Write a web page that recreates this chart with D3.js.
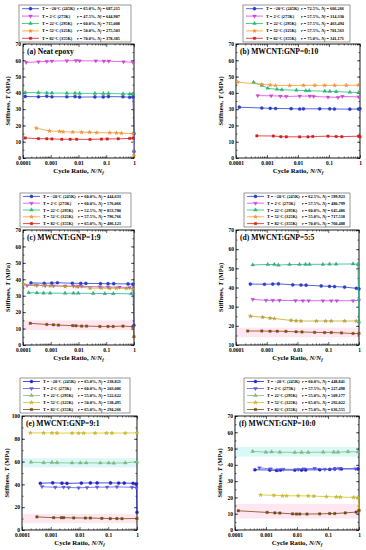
<!DOCTYPE html>
<html>
<head>
<meta charset="utf-8">
<script src="https://cdn.jsdelivr.net/npm/d3@7"></script>
<style>
  body { margin: 0; background: #fff; }
  svg { display: block; }
</style>
</head>
<body>
<script>
var FONT = '"Liberation Serif", "Times New Roman", serif'

// ---- data ----
var panel_titles = ['(a) Neat epoxy', '(b) MWCNT:GNP=0:10', '(c) MWCNT:GNP=1:9',
                    '(d) MWCNT:GNP=5:5', '(e) MWCNT:GNP=9:1', '(f) MWCNT:GNP=10:0']
var temps = ['T = \u221220\u00b0C (245K)', 'T = 2\u00b0C (275K)', 'T = 22\u00b0C (295K)',
             'T = 52\u00b0C (325K)', 'T = 82\u00b0C (355K)']
var r_values = [
  ['65.0%', '47.5%', '60.0%', '50.0%', '70.0%'],
  ['72.5%', '57.5%', '57.5%', '57.5%', '75.0%'],
  ['60.0%', '60.0%', '52.5%', '57.5%', '65.0%'],
  ['62.5%', '57.5%', '60.0%', '55.0%', '70.0%'],
  ['65.0%', '60.0%', '55.0%', '50.0%', '65.0%'],
  ['60.0%', '57.5%', '55.0%', '65.0%', '75.0%']
]
var nf_values = [
  ['687,215', '644,987', '715,008', '275,503', '378,385'],
  ['666,266', '314,330', '463,494', '701,563', '341,171'],
  ['444,633', '576,066', '853,780', '796,766', '486,123'],
  ['599,923', '480,799', '645,486', '717,518', '760,488'],
  ['238,821', '203,086', '522,622', '538,495', '294,266'],
  ['448,841', '227,498', '509,177', '292,022', '636,555']
]
var x_ticks = [0.0001, 0.001, 0.01, 0.1, 1]
var y_domains = [[0, 70], [0, 70], [0, 70], [10, 70], [0, 100], [0, 70]]
var y_steps = [10, 10, 10, 10, 20, 10]
var pink_bands = [null, null, [9, 15], [14, 19], [6, 14], [7, 16]]
var cyan_bands = [null, null, null, null, [55, 63], [45, 51]]

// cycle ratio (x) and stiffness (y), series order: -20, 2, 22, 52, 82 C
var ratio_a = [
  [1.2e-4, 3.6e-4, 7.2e-4, 1.1e-3, 3.8e-3, 7.5e-3, 0.011, 0.039, 0.078, 0.12, 0.4, 0.7, 0.92, 1, 1],
  [1.3e-4, 3.6e-4, 7.2e-4, 1.1e-3, 3.8e-3, 8.1e-3, 0.011, 0.042, 0.082, 0.124, 0.42, 0.91],
  [1.2e-4, 3.6e-4, 7.2e-4, 1.1e-3, 3.8e-3, 7.5e-3, 0.011, 0.039, 0.078, 0.12, 0.4, 0.7, 0.92],
  [3.0e-4, 9e-4, 2.1e-3, 2.8e-3, 6.2e-3, 0.013, 0.025, 0.045, 0.134, 0.23, 0.35, 0.92, 1],
  [1.2e-4, 3.6e-4, 7.2e-4, 1.1e-3, 2.5e-3, 5e-3, 8.6e-3, 0.026, 0.067, 0.108, 0.27, 0.7, 0.92]
]
var stiff_a = [
  [37.8, 37.6, 37.9, 37.6, 37.6, 37.7, 37.4, 37.5, 37.5, 37.7, 37.6, 37.3, 37.5, 15, 4],
  [58.7, 59.1, 59.3, 59.5, 59.7, 59.8, 59.7, 59.6, 59.5, 59.5, 59.1, 58.8],
  [40.2, 40.1, 39.9, 39.9, 39.8, 39.8, 39.7, 39.7, 39.6, 39.6, 39.4, 39.3, 39.3],
  [18.3, 16.6, 16.3, 16.1, 15.9, 15.8, 15.8, 15.6, 15.5, 15.4, 15.2, 15.0, 1.5],
  [12.3, 11.9, 11.8, 11.7, 11.5, 11.5, 11.5, 11.4, 11.6, 11.7, 11.8, 12.0, 12.2]
]
var ratio_b = [
  [1.28e-4, 6.8e-4, 1.27e-3, 1.9e-3, 6e-3, 0.0113, 0.015, 0.05, 0.106, 0.15, 0.47, 0.9, 1],
  [5e-4, 1.36e-3, 2.7e-3, 4.2e-3, 0.0113, 0.024, 0.032, 0.093, 0.195, 0.27, 0.9],
  [3.7e-4, 6.8e-4, 1.06e-3, 2.1e-3, 3e-3, 8.9e-3, 0.018, 0.023, 0.073, 0.106, 0.17, 0.47, 0.9],
  [1.13e-4, 6.8e-4, 1.27e-3, 1.9e-3, 5.4e-3, 0.015, 0.035, 0.073, 0.153, 0.36, 0.89],
  [4.7e-4, 1.6e-3, 2.8e-3, 4.2e-3, 0.0113, 0.021, 0.03, 0.093, 0.17, 0.26, 0.9, 1]
]
var stiff_b = [
  [31.2, 30.7, 30.5, 30.4, 30.3, 30.1, 30.2, 30.2, 30.2, 30.1, 30.0, 30.1, 30.3],
  [38.3, 38.2, 38.0, 37.8, 38.0, 38.0, 37.8, 37.4, 37.2, 37.8, 37.5],
  [46.5, 44.6, 42.8, 42.2, 41.9, 41.6, 41.4, 41.3, 41.0, 40.9, 40.8, 40.4, 40.2],
  [46.6, 45.2, 44.8, 44.5, 44.5, 44.6, 44.6, 44.6, 44.6, 44.6, 44.7],
  [13.6, 13.5, 13.1, 13.0, 13.0, 13.0, 13.2, 13.4, 13.2, 13.1, 13.4, 13.0]
]
var ratio_c = [
  [1.93e-4, 5.8e-4, 1.09e-3, 1.74e-3, 6e-3, 0.012, 0.0185, 0.062, 0.116, 0.186, 0.61, 0.91, 1],
  [1.39e-4, 3.17e-4, 6.3e-4, 1.25e-3, 3.3e-3, 6.6e-3, 9.8e-3, 0.013, 0.059, 0.116, 0.3, 0.7],
  [1.6e-4, 3.17e-4, 5.5e-4, 9.5e-4, 3.3e-3, 6.6e-3, 9.8e-3, 0.034, 0.089, 0.18, 0.8],
  [1.06e-4, 2.77e-4, 5.5e-4, 9.5e-4, 3.3e-3, 8.6e-3, 0.026, 0.067, 0.134, 0.23, 0.53, 0.91],
  [1.83e-4, 7.2e-4, 1.25e-3, 1.9e-3, 6.2e-3, 8.1e-3, 0.013, 0.0195, 0.059, 0.116, 0.177, 0.4, 0.91, 1]
]
var stiff_c = [
  [37.8, 37.6, 37.7, 37.9, 37.6, 37.5, 37.5, 37.4, 37.3, 37.3, 37.2, 37.0, 12],
  [36.2, 36.3, 36.1, 36.0, 35.9, 35.9, 35.7, 35.7, 35.4, 35.3, 35.2, 35.0],
  [31.8, 31.7, 31.6, 31.6, 31.5, 31.5, 31.5, 31.4, 31.3, 31.3, 31.2],
  [37.0, 36.6, 36.2, 36.0, 35.6, 35.5, 34.6, 34.7, 34.5, 34.6, 34.4, 34.2],
  [13.2, 12.5, 12.3, 12.1, 11.8, 11.7, 11.5, 11.5, 11.3, 11.3, 11.3, 11.5, 11.2, 5]
]
var ratio_d = [
  [2.93e-4, 8.4e-4, 1.57e-3, 2.4e-3, 7e-3, 0.013, 0.019, 0.059, 0.11, 0.16, 0.34, 0.82, 1],
  [3.5e-4, 9.5e-4, 1.57e-3, 2.6e-3, 8.6e-3, 0.0149, 0.023, 0.067, 0.125, 0.19, 0.64, 1],
  [3.5e-4, 1.08e-3, 1.77e-3, 2.4e-3, 5.5e-3, 0.0116, 0.0183, 0.0246, 0.067, 0.11, 0.18, 0.64, 0.92, 1],
  [2.93e-4, 7.4e-4, 1.28e-3, 1.77e-3, 6.2e-3, 9e-3, 0.013, 0.041, 0.082, 0.125, 0.34, 0.82],
  [2.4e-4, 6.9e-4, 1.28e-3, 2.2e-3, 4.2e-3, 9e-3, 0.014, 0.036, 0.076, 0.125, 0.27, 0.64, 1]
]
var stiff_d = [
  [41.8, 41.7, 41.8, 41.9, 41.4, 41.3, 41.2, 40.8, 40.6, 40.5, 40.2, 39.6, 39.3],
  [33.8, 33.3, 33.3, 33.3, 33.2, 33.1, 33.1, 33.1, 33.1, 33.1, 33.1, 33.3],
  [51.8, 52.0, 52.0, 51.7, 52.0, 52.0, 52.1, 52.1, 52.1, 52.2, 52.2, 52.3, 52.1, 22],
  [25.0, 24.5, 24.0, 23.8, 22.8, 22.6, 22.5, 22.5, 22.5, 22.5, 22.5, 22.5],
  [17.3, 17.3, 17.2, 17.2, 17.1, 16.9, 16.8, 16.6, 16.5, 16.5, 16.3, 16.0, 16.0]
]
var ratio_e = [
  [4.34e-4, 1.17e-3, 2.46e-3, 3.67e-3, 0.0116, 0.024, 0.041, 0.12, 0.23, 0.36, 0.73, 0.95, 1],
  [4.95e-4, 1.44e-3, 2.8e-3, 4.2e-3, 9.3e-3, 0.0183, 0.041, 0.091, 0.2, 0.67, 0.95],
  [2.05e-4, 5.67e-4, 1.1e-3, 1.65e-3, 5.5e-3, 0.0107, 0.0172, 0.053, 0.104, 0.155, 0.39, 1],
  [1.95e-4, 5.67e-4, 1.1e-3, 1.65e-3, 5.5e-3, 9.3e-3, 0.014, 0.035, 0.086, 0.135, 0.39, 1],
  [3.3e-4, 1.26e-3, 2.34e-3, 2.8e-3, 6.3e-3, 0.016, 0.024, 0.06, 0.117, 0.2, 0.3, 1]
]
var stiff_e = [
  [41.0, 41.4, 41.1, 40.9, 41.2, 41.3, 41.3, 41.3, 41.2, 41.2, 41.0, 40.5, 15.5],
  [38.0, 37.5, 37.6, 37.3, 37.0, 37.3, 37.6, 37.6, 37.8, 37.5, 37.0],
  [59.5, 59.0, 59.2, 59.0, 58.8, 58.9, 58.9, 58.8, 58.8, 58.7, 58.9, 59.8],
  [85.2, 85.1, 85.1, 85.0, 85.0, 85.0, 85.0, 85.0, 85.0, 85.0, 85.0, 85.2],
  [11.5, 10.8, 10.8, 10.8, 10.6, 10.5, 10.5, 10.2, 10.0, 10.0, 9.9, 10.1]
]
var ratio_f = [
  [4.4e-4, 1.33e-3, 2.2e-3, 2.94e-3, 8.5e-3, 0.014, 0.019, 0.054, 0.114, 0.165, 0.27, 0.92],
  [6.1e-4, 1.4e-3, 2.5e-3, 3.6e-3, 0.0109, 0.0166, 0.037, 0.079, 0.165, 0.23, 0.78],
  [3.7e-4, 9.9e-4, 1.51e-3, 2.8e-3, 8.5e-3, 0.014, 0.023, 0.07, 0.153, 0.21, 0.44, 0.92],
  [6.7e-4, 1.8e-3, 3.4e-3, 4.6e-3, 0.0109, 0.023, 0.035, 0.089, 0.186, 0.25, 0.67, 0.92, 1],
  [1.28e-4, 1.09e-3, 1.93e-3, 2.8e-3, 7.2e-3, 9.6e-3, 0.0123, 0.021, 0.054, 0.114, 0.165, 0.36, 0.81, 1]
]
var stiff_f = [
  [37.0, 36.8, 36.6, 36.8, 36.8, 36.8, 36.9, 37.0, 37.2, 37.5, 37.5, 37.5],
  [38.2, 37.5, 37.0, 37.3, 37.2, 37.5, 37.8, 37.3, 37.5, 37.8, 37.6],
  [48.3, 47.8, 48.0, 47.8, 47.6, 47.7, 47.7, 47.8, 47.8, 47.8, 48.1, 48.0],
  [21.5, 21.3, 21.0, 21.0, 21.0, 20.9, 20.8, 20.5, 20.3, 20.2, 20.0, 19.9, 12],
  [11.8, 10.8, 10.5, 10.4, 9.9, 9.8, 9.8, 9.8, 9.9, 10.1, 10.1, 10.5, 11.0, 12.0]
]
var all_ratios = [ratio_a, ratio_b, ratio_c, ratio_d, ratio_e, ratio_f]
var all_stiff = [stiff_a, stiff_b, stiff_c, stiff_d, stiff_e, stiff_f]

// ---- styles / layout ----
var COLORS_AB = ['#2a3fd0', '#dd44dd', '#22c07a', '#ff9a2a', '#e31a1c']
var COLORS_CD = ['#2a3fd0', '#c24ee0', '#2fb38a', '#c4a72a', '#8c4a14']
var COLORS_EF = ['#2222cc', '#5a5ae6', '#7fc07f', '#d4c21e', '#7a4a12']
var plot_colors = [COLORS_AB, COLORS_AB, COLORS_CD, COLORS_CD, COLORS_EF, COLORS_EF]
var legend_colors = [COLORS_AB, COLORS_AB, COLORS_AB, COLORS_AB, COLORS_EF, COLORS_EF]
var SHAPES = ['circle', 'tridown', 'triup', 'star', 'square']
var SHAPE_SIZE = {circle: 8, tridown: 6, triup: 6, star: 5, square: 6}

var LAYOUT = [
  {plot: [23, 44, 134, 158], legend: [19, 5, 131, 42]},
  {plot: [236, 44, 360, 158], legend: [243, 5, 350, 42]},
  {plot: [23, 230, 134, 345], legend: [20, 193, 131, 227]},
  {plot: [236, 230, 359, 345], legend: [244, 193, 350, 227]},
  {plot: [22, 416, 137, 530], legend: [20, 378, 130, 413]},
  {plot: [235, 416, 359, 530], legend: [244, 378, 350, 413]}
]

var svg = d3.select('body').append('svg')
  .attr('width', 366).attr('height', 550)
  .style('font-family', FONT)

function symbol_path(shape){
  var t = d3.symbolCircle
  if(shape === 'triup' || shape === 'tridown') t = d3.symbolTriangle
  if(shape === 'star') t = d3.symbolStar
  if(shape === 'square') t = d3.symbolSquare
  return d3.symbol().type(t).size(SHAPE_SIZE[shape])()
}

function draw_marker(g, shape, cx, cy, color){
  g.append('path')
    .attr('d', symbol_path(shape))
    .attr('transform', 'translate(' + cx + ',' + cy + ')' + (shape === 'tridown' ? ' rotate(180)' : ''))
    .attr('fill', color)
    .attr('stroke', d3.color(color).darker(0.6))
    .attr('stroke-width', 0.3)
}

function minor_ticks(){
  var out = []
  for(var e = -4; e < 0; e++){
    for(var m = 2; m < 10; m++) out.push(m * Math.pow(10, e))
  }
  return out
}

function draw_panel(i){
  var L = LAYOUT[i]
  var p = L.plot
  var x = d3.scaleLog().domain([1e-4, 1]).range([p[0], p[2]])
  var y = d3.scaleLinear().domain(y_domains[i]).range([p[3], p[1]])
  var g = svg.append('g')

  // light shaded bands
  var bands = [[pink_bands[i], 'rgba(255,170,210,0.28)'], [cyan_bands[i], 'rgba(150,235,235,0.35)']]
  bands.forEach(function(b){
    if(!b[0]) return
    g.append('rect')
      .attr('x', p[0]).attr('width', p[2] - p[0])
      .attr('y', y(b[0][1])).attr('height', y(b[0][0]) - y(b[0][1]))
      .attr('fill', b[1])
  })

  var yticks = d3.range(y_domains[i][0], y_domains[i][1] + 0.1, y_steps[i])
  var yminor = d3.range(y_domains[i][0], y_domains[i][1] + 0.1, y_steps[i] / 2)

  var fmt = function(d){ return d >= 1 ? '1' : String(d) }
  var axes = [
    [d3.axisBottom(x).tickValues(x_ticks).tickFormat(fmt).tickSize(-3).tickPadding(3), p[3]],
    [d3.axisBottom(x).tickValues(minor_ticks()).tickFormat('').tickSize(-1.5), p[3]],
    [d3.axisTop(x).tickValues(x_ticks).tickFormat('').tickSize(-3), p[1]],
    [d3.axisTop(x).tickValues(minor_ticks()).tickFormat('').tickSize(-1.5), p[1]]
  ]
  axes.forEach(function(a){
    g.append('g').attr('transform', 'translate(0,' + a[1] + ')').call(a[0])
  })
  var yaxes = [
    [d3.axisLeft(y).tickValues(yticks).tickSize(-3).tickPadding(2), p[0]],
    [d3.axisLeft(y).tickValues(yminor).tickFormat('').tickSize(-1.5), p[0]],
    [d3.axisRight(y).tickValues(yticks).tickFormat('').tickSize(-3), p[2]],
    [d3.axisRight(y).tickValues(yminor).tickFormat('').tickSize(-1.5), p[2]]
  ]
  yaxes.forEach(function(a){
    g.append('g').attr('transform', 'translate(' + a[1] + ',0)').call(a[0])
  })
  g.selectAll('.domain').remove()
  g.selectAll('.tick line').attr('stroke', '#000').attr('stroke-width', 0.6)
  g.selectAll('.tick text')
    .attr('font-family', FONT).attr('font-weight', 'bold')
    .attr('font-size', '5.5px').attr('fill', '#000')

  g.append('rect')
    .attr('x', p[0]).attr('y', p[1])
    .attr('width', p[2] - p[0]).attr('height', p[3] - p[1])
    .attr('fill', 'none').attr('stroke', '#000').attr('stroke-width', 0.9)

  // series
  var line = d3.line().x(function(d){ return x(d[0]) }).y(function(d){ return y(d[1]) })
  all_ratios[i].forEach(function(xs, s){
    var pts = xs.map(function(v, k){ return [v, all_stiff[i][s][k]] })
    var color = plot_colors[i][s]
    g.append('path').attr('d', line(pts))
      .attr('fill', 'none').attr('stroke', color).attr('stroke-width', 0.8)
    pts.forEach(function(d){
      draw_marker(g, SHAPES[s], x(d[0]), y(d[1]), color)
    })
  })

  // panel title
  g.append('text')
    .attr('x', p[0] + 4).attr('y', p[1] + 10)
    .attr('font-size', '7.6px').attr('font-weight', 'bold')
    .text(panel_titles[i])

  // axis titles
  var xt = g.append('text')
    .attr('x', (p[0] + p[2]) / 2).attr('y', p[3] + 15)
    .attr('text-anchor', 'middle')
    .attr('font-size', '6.8px').attr('font-weight', 'bold')
  xt.append('tspan').text('Cycle Ratio, ')
  xt.append('tspan').attr('font-style', 'italic').text('N/N')
  xt.append('tspan').attr('font-style', 'italic').attr('font-size', '4.8px').attr('dy', 1.2).text('f')

  var yt = g.append('text')
    .attr('transform', 'translate(' + (p[0] - 13) + ',' + ((p[1] + p[3]) / 2) + ') rotate(-90)')
    .attr('text-anchor', 'middle')
    .attr('font-size', '6.4px').attr('font-weight', 'bold')
  yt.append('tspan').text('Stiffness, ')
  yt.append('tspan').attr('font-style', 'italic').text('T')
  yt.append('tspan').text(' (MPa)')

  draw_legend(i)
}

function draw_legend(i){
  var b = LAYOUT[i].legend
  var g = svg.append('g')
  g.append('rect')
    .attr('x', b[0]).attr('y', b[1])
    .attr('width', b[2] - b[0]).attr('height', b[3] - b[1])
    .attr('fill', '#fff').attr('stroke', '#555').attr('stroke-width', 0.6)
  var step = (b[3] - b[1]) / 5
  temps.forEach(function(t, s){
    var cy = b[1] + step * (s + 0.5)
    var color = legend_colors[i][s]
    g.append('line')
      .attr('x1', b[0] + 3).attr('x2', b[0] + 20)
      .attr('y1', cy).attr('y2', cy)
      .attr('stroke', color).attr('stroke-width', 0.8)
    draw_marker(g, SHAPES[s], b[0] + 11.5, cy, color)
    var tx = g.append('text')
      .attr('x', b[0] + 23).attr('y', cy + 1.5)
      .attr('font-size', '4.3px').attr('font-weight', 'bold')
    tx.append('tspan').text(t)
    tx.append('tspan').attr('x', b[0] + 58).attr('font-style', 'italic').text('r')
    tx.append('tspan').text(' = ' + r_values[i][s] + ', ')
    tx.append('tspan').attr('font-style', 'italic').text('N')
    tx.append('tspan').attr('font-style', 'italic').attr('font-size', '3.2px').attr('dy', 0.8).text('f')
    tx.append('tspan').attr('dy', -0.8).text(' = ' + nf_values[i][s])
  })
}

for(var i = 0; i < 6; i++) draw_panel(i)
</script>
</body>
</html>
